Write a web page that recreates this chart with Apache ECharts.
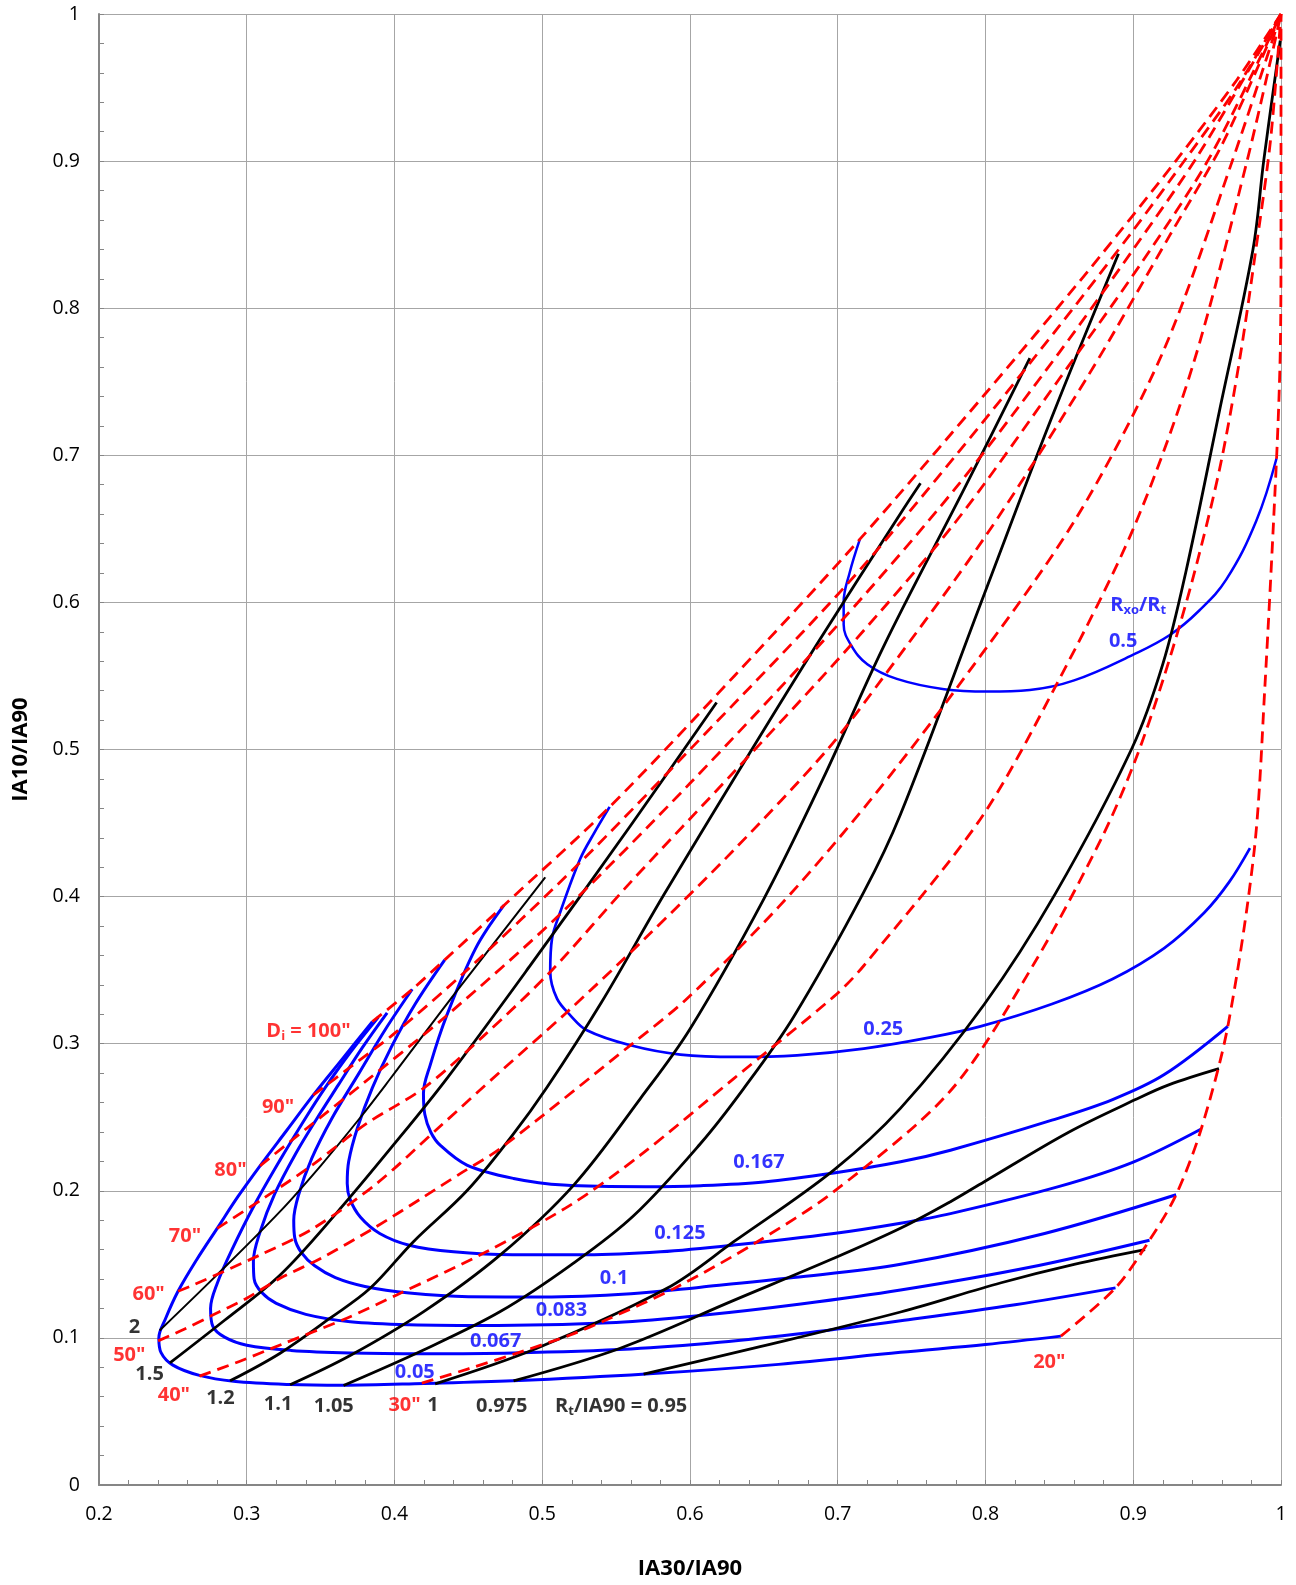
<!DOCTYPE html>
<html><head><meta charset="utf-8">
<script src="https://cdn.jsdelivr.net/npm/echarts/dist/echarts.min.js"></script>
<style>html,body{margin:0;padding:0;background:#fff}#c{width:1296px;height:1585px}</style>
</head><body><div id="c"></div>
<script>
// ---- tick labels ----
const xTicks = ['0.2','0.3','0.4','0.5','0.6','0.7','0.8','0.9','1'];
const yTicks = ['0','0.1','0.2','0.3','0.4','0.5','0.6','0.7','0.8','0.9','1'];

// ---- Rxo/Rt curves (blue) ----
const blue005 = [[0.385,0.315],[0.365,0.29],[0.345,0.265],[0.327,0.241],[0.309,0.217],[0.294,0.196],[0.28,0.1745],[0.266,0.153],[0.2535,0.1317],[0.245,0.113],[0.2405,0.1],[0.242,0.09],[0.25,0.0815],[0.268,0.0745],[0.291,0.0705],[0.329,0.0683],[0.365,0.0678],[0.42,0.069],[0.48,0.0708],[0.57,0.0754],[0.66,0.082],[0.7425,0.0902],[0.8,0.0955],[0.851,0.1012]];
const blue0067 = [[0.389,0.318],[0.37,0.294],[0.353,0.27],[0.3395,0.249],[0.322,0.22],[0.305,0.19],[0.29,0.16],[0.28,0.137],[0.2755,0.12],[0.277,0.108],[0.285,0.1005],[0.3,0.095],[0.33,0.0915],[0.37,0.0898],[0.42,0.0893],[0.48,0.0898],[0.56,0.0925],[0.62,0.097],[0.68,0.1035],[0.7425,0.1116],[0.82,0.1225],[0.888,0.134]];
const blue0083 = [[0.395,0.321],[0.378,0.297],[0.362,0.272],[0.3474,0.249],[0.333,0.225],[0.319,0.198],[0.309,0.172],[0.3045,0.152],[0.305,0.14],[0.31,0.131],[0.32,0.1235],[0.34,0.116],[0.37,0.111],[0.41,0.109],[0.47,0.1085],[0.55,0.1105],[0.61,0.1155],[0.675,0.123],[0.7425,0.1325],[0.83,0.148],[0.911,0.1664]];
const blue01 = [[0.412,0.337],[0.394,0.31],[0.376,0.28],[0.3575,0.249],[0.344,0.222],[0.335,0.197],[0.3318,0.18],[0.3325,0.168],[0.337,0.158],[0.346,0.149],[0.36,0.141],[0.38,0.135],[0.41,0.1305],[0.45,0.128],[0.5,0.1278],[0.56,0.13],[0.6072,0.1345],[0.67,0.141],[0.7425,0.15],[0.84,0.171],[0.929,0.1973]];
const blue0125 = [[0.434,0.357],[0.414,0.327],[0.398,0.298],[0.385,0.27],[0.375,0.243],[0.369,0.22],[0.368,0.205],[0.37,0.194],[0.377,0.182],[0.39,0.171],[0.41,0.163],[0.44,0.1585],[0.48,0.1565],[0.53,0.1565],[0.58,0.1585],[0.6296,0.1631],[0.6973,0.171],[0.7425,0.178],[0.7763,0.1845],[0.85,0.203],[0.9,0.2195],[0.946,0.242]];
const blue0167 = [[0.474,0.394],[0.455,0.365],[0.4354,0.3193],[0.4241,0.2853],[0.4196,0.2663],[0.4205,0.252],[0.4245,0.24],[0.4309,0.231],[0.449,0.2175],[0.4806,0.2084],[0.5144,0.2039],[0.57,0.2028],[0.6072,0.2035],[0.65,0.206],[0.6973,0.2121],[0.7425,0.2197],[0.7763,0.2276],[0.845,0.248],[0.886,0.262],[0.921,0.279],[0.964,0.3118]];
const blue025 = [[0.5456,0.461],[0.535,0.443],[0.5257,0.4257],[0.5122,0.3895],[0.5066,0.3714],[0.5054,0.3488],[0.51,0.3306],[0.519,0.3193],[0.5302,0.3091],[0.5596,0.2989],[0.5935,0.2926],[0.6318,0.291],[0.6724,0.2921],[0.7176,0.2967],[0.7627,0.3043],[0.7966,0.3118],[0.845,0.327],[0.886,0.344],[0.921,0.365],[0.948,0.389],[0.965,0.41],[0.979,0.433]];
const blue05 = [[0.715,0.643],[0.708,0.62],[0.704,0.6],[0.704,0.585],[0.709,0.571],[0.72,0.558],[0.74,0.548],[0.772,0.541],[0.8015,0.5394],[0.83,0.5405],[0.86,0.547],[0.9,0.5645],[0.925,0.578],[0.9447,0.5945],[0.963,0.6156],[0.9833,0.6555],[0.997,0.698]];

// ---- Di lines (red dashed) ----
const red100 = [[0.385,0.315],[0.412,0.337],[0.434,0.357],[0.474,0.394],[0.5456,0.461],[0.63,0.55],[0.715,0.643],[0.8,0.742],[0.87,0.826],[0.9287,0.9],[0.97,0.955],[1,1]];
const red90 = [[0.345,0.265],[0.37,0.284],[0.4,0.307],[0.449,0.35],[0.5235,0.4211],[0.6,0.5],[0.706,0.612],[0.78,0.7],[0.85,0.788],[0.9,0.853],[0.9366,0.903],[0.97,0.95],[1,1]];
const red80 = [[0.309,0.217],[0.34,0.242],[0.38,0.274],[0.434,0.318],[0.511,0.387],[0.6,0.477],[0.703,0.588],[0.78,0.678],[0.85,0.77],[0.9,0.84],[0.9445,0.905],[1,1]];
const red70 = [[0.28,0.1745],[0.31,0.194],[0.345,0.218],[0.38,0.245],[0.42,0.27],[0.46,0.305],[0.5054,0.3488],[0.56,0.41],[0.63,0.485],[0.708,0.57],[0.78,0.655],[0.85,0.752],[0.905,0.83],[0.952,0.903],[1,1]];
const red60 = [[0.2535,0.1317],[0.2639,0.136],[0.309,0.1564],[0.3451,0.1745],[0.388,0.205],[0.43,0.243],[0.4716,0.281],[0.5156,0.3204],[0.57,0.372],[0.63,0.432],[0.693,0.5],[0.73,0.548],[0.8,0.645],[0.87,0.755],[0.925,0.85],[0.961,0.913],[1,1]];
const red50 = [[0.24,0.098],[0.258,0.106],[0.276,0.115],[0.3,0.127],[0.3226,0.1405],[0.35,0.154],[0.385,0.174],[0.42,0.196],[0.445,0.212],[0.4716,0.2288],[0.5596,0.2989],[0.5979,0.3306],[0.66,0.393],[0.72,0.463],[0.78,0.541],[0.86,0.655],[0.92,0.77],[0.967,0.9],[1,1]];
const red40 = [[0.268,0.074],[0.295,0.084],[0.3226,0.0952],[0.3677,0.1134],[0.4015,0.1292],[0.4625,0.1587],[0.519,0.1903],[0.5664,0.2242],[0.6296,0.2763],[0.6973,0.332],[0.7176,0.353],[0.7966,0.4528],[0.849,0.546],[0.9,0.65],[0.94,0.76],[0.977,0.9],[1,1]];
const red30 = [[0.4185,0.0692],[0.45,0.079],[0.487,0.091],[0.519,0.102],[0.545,0.113],[0.59,0.134],[0.645,0.165],[0.6973,0.1994],[0.7763,0.268],[0.8332,0.355],[0.8787,0.44],[0.9015,0.493],[0.921,0.55],[0.94,0.615],[0.9583,0.69],[0.972,0.765],[0.983,0.84],[0.993,0.915],[1,1]];
const red20 = [[0.851,0.1012],[0.888,0.134],[0.911,0.1664],[0.929,0.1973],[0.946,0.242],[0.964,0.3118],[0.982,0.4325],[0.989,0.541],[0.997,0.698],[0.9995,0.77],[1,0.85],[1,1]];

// ---- Rt/IA90 lines (black) ----
const black2 = [[0.241,0.105],[0.28,0.143],[0.3226,0.186],[0.35,0.217],[0.377,0.25],[0.397,0.276],[0.44,0.333],[0.502,0.413]];
const black15 = [[0.248,0.083],[0.285,0.112],[0.3226,0.1428],[0.36,0.184],[0.4,0.232],[0.4354,0.2763],[0.4919,0.3532],[0.5596,0.448],[0.618,0.532]];
const black12 = [[0.2887,0.0708],[0.3226,0.0896],[0.3564,0.1134],[0.3835,0.1337],[0.4128,0.1654],[0.449,0.2],[0.48,0.238],[0.503,0.27],[0.54,0.328],[0.582,0.4007],[0.64,0.497],[0.688,0.575],[0.7425,0.6605],[0.756,0.681]];
const black11 = [[0.3293,0.0681],[0.37,0.088],[0.42,0.118],[0.4716,0.1564],[0.5213,0.2039],[0.5664,0.2627],[0.6,0.31],[0.65,0.3985],[0.69,0.48],[0.731,0.57],[0.786,0.678],[0.83,0.766]];
const black105 = [[0.3655,0.0677],[0.42,0.092],[0.4716,0.1179],[0.52,0.15],[0.5618,0.183],[0.607,0.232],[0.6363,0.2695],[0.67,0.318],[0.7176,0.403],[0.7425,0.456],[0.7992,0.6057],[0.8447,0.7253],[0.89,0.837]];
const black1 = [[0.4275,0.0688],[0.4964,0.093],[0.5844,0.1337],[0.6296,0.1654],[0.6973,0.2141],[0.7424,0.256],[0.7992,0.3268],[0.847,0.4015],[0.8992,0.501],[0.92,0.558],[0.9356,0.6207],[0.9583,0.73],[0.981,0.8398],[0.9884,0.901],[0.9995,0.982]];
const black0975 = [[0.4806,0.0708],[0.5528,0.093],[0.6296,0.1255],[0.6973,0.1541],[0.7424,0.1745],[0.7763,0.1926],[0.7992,0.2062],[0.856,0.2397],[0.9015,0.262],[0.924,0.272],[0.958,0.283]];
const black095 = [[0.5686,0.0754],[0.6432,0.093],[0.7425,0.1176],[0.8106,0.1375],[0.86,0.15],[0.908,0.16]];

// ---- annotations: [x, y, [normal, sub, normal, ...]] ----
const redLabels = [[0.3418,0.3084,['D','i',' = 100"']],[0.3212,0.2569,['90"']],[0.289,0.2136,['80"']],[0.2582,0.169,['70"']],[0.2336,0.1298,['60"']],[0.2205,0.0879,['50"']],[0.2507,0.0611,['40"']],[0.4068,0.0543,['30"']],[0.8432,0.0831,['20"']]];
const blackLabels = [[0.224,0.1071,['2']],[0.2342,0.0755,['1.5']],[0.2822,0.0591,['1.2']],[0.3212,0.0549,['1.1']],[0.3589,0.0536,['1.05']],[0.426,0.0543,['1']],[0.4726,0.0536,['0.975']],[0.5534,0.0536,['R','t','/IA90 = 0.95']]];
const blueLabels = [[0.7308,0.3098,['0.25']],[0.6466,0.2191,['0.167']],[0.5932,0.171,['0.125']],[0.5486,0.1408,['0.1']],[0.513,0.1188,['0.083']],[0.4685,0.0975,['0.067']],[0.4137,0.0769,['0.05']],[0.9034,0.5982,['R','xo','/R','t']],[0.8932,0.5735,['0.5']]];

const FONT = '"Open Sans", "Noto Sans", sans-serif';
const RED = '#ff0000', BLUE = '#0000ff', BLACK = '#000000', AX = '#868686', GRID = '#a6a6a6';

function ln(data, color, width, dashed, z, sm) {
  return {type:'line', data, smooth: sm || 0.3, symbol:'none', showSymbol:false, clip:false, z, animation:false, silent:true,
    lineStyle:{color, width, type: dashed ? [12,7] : 'solid', cap:'butt', join:'round'}};
}
function richText(parts){
  return parts.map((p,i)=> p==='' ? '' : (i%2 ? '{s|'+p+'}' : '{n|'+p+'}')).join('');
}
function labelSeries(items, color){
  return {type:'scatter', symbolSize:0, z:20, animation:false, silent:true,
    itemStyle:{color:'transparent'},
    data: items.map(it=>({value:[it[0],it[1]], label:{formatter: richText(it[2])}})),
    label:{show:true, position:'inside',
      rich:{n:{fontFamily:FONT,fontSize:20,fontWeight:'bold',color},
            s:{fontFamily:FONT,fontSize:13,fontWeight:'bold',color,padding:[10,0,0,0]}}}};
}

const series = [];
[blue005,blue0067,blue0083,blue01,blue0125,blue0167].forEach(d=>series.push(ln(d,BLUE,3,false,3,0.35)));
series.push(ln(blue025,BLUE,2.7,false,3,0.35));
series.push(ln(blue05,BLUE,2.5,false,3,0.4));
series.push(ln(black2,BLACK,2,false,4,0.35));
[black15,black12,black11,black105,black1,black0975,black095].forEach(d=>series.push(ln(d,BLACK,2.8,false,4,0.35)));
[red100,red90,red80,red70,red60,red50,red40,red30,red20].forEach(d=>series.push(ln(d,RED,2.8,true,5)));
series.push(labelSeries(redLabels,RED));
series.push(labelSeries(blackLabels,BLACK));
series.push(labelSeries(blueLabels,BLUE));

const chart = echarts.init(document.getElementById('c'), null, {renderer:'canvas'});
chart.setOption({
  animation:false,
  backgroundColor:'#ffffff',
  grid:{left:99, right:15, top:14, bottom:98, containLabel:false},
  xAxis:{type:'value', min:0.2, max:1, interval:0.1,
    name:'IA30/IA90', nameLocation:'middle', nameGap:73,
    nameTextStyle:{fontFamily:FONT, fontSize:22, fontWeight:'bold', color:'#000'},
    axisLine:{show:true, onZero:false, lineStyle:{color:AX, width:2}},
    axisTick:{show:true, inside:true, length:5, lineStyle:{color:AX, width:1}},
    minorTick:{show:true, splitNumber:5, length:5, lineStyle:{color:AX, width:1}},
    splitLine:{show:true, lineStyle:{color:GRID, width:1}},
    axisLabel:{fontFamily:FONT, fontSize:19.5, color:'#000', margin:19,
      formatter:v=>xTicks[Math.round((v-0.2)*10)]}},
  yAxis:{type:'value', min:0, max:1, interval:0.1,
    name:'IA10/IA90', nameLocation:'middle', nameGap:67, nameRotate:90,
    nameTextStyle:{fontFamily:FONT, fontSize:22, fontWeight:'bold', color:'#000'},
    axisLine:{show:true, onZero:false, lineStyle:{color:AX, width:2}},
    axisTick:{show:true, inside:true, length:5, lineStyle:{color:AX, width:1}},
    minorTick:{show:true, splitNumber:5, length:5, lineStyle:{color:AX, width:1}},
    splitLine:{show:true, lineStyle:{color:GRID, width:1}},
    axisLabel:{fontFamily:FONT, fontSize:19.5, color:'#000', margin:19,
      formatter:v=>yTicks[Math.round(v*10)]}},
  series
});
</script></body></html>
